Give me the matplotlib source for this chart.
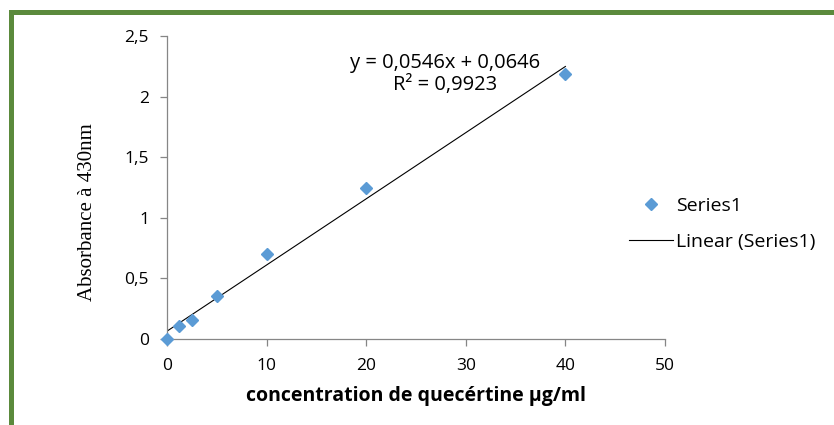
import numpy as np
import matplotlib.pyplot as plt
from matplotlib.patches import Rectangle
from matplotlib.lines import Line2D

# data
conc = [0, 1.25, 2.5, 5, 10, 20, 40]
absorb = [0.0, 0.105, 0.155, 0.355, 0.705, 1.25, 2.185]
slope, intercept = 0.0546, 0.0646
xticks = [0, 10, 20, 30, 40, 50]
yticks = [0, 0.5, 1, 1.5, 2, 2.5]
ytick_labels = ["0", "0,5", "1", "1,5", "2", "2,5"]

SANS = ["Open Sans", "DejaVu Sans"]
SERIF = ["Liberation Serif", "DejaVu Serif"]
BLUE = "#5b9bd5"
GREY = "#868686"

fig = plt.figure(figsize=(8.34, 4.25), dpi=100)
fig.patch.set_facecolor("white")

# green frame (only left and top edges visible in the crop)
fig.patches.append(Rectangle((11 / 834, -0.1), 1.2, 1.1 - 12.5 / 425,
                             transform=fig.transFigure, fill=False,
                             edgecolor="#5b8a3c", lw=3.6, zorder=0))

ax = fig.add_axes([167 / 834, 1 - 339 / 425, 498 / 834, 303 / 425])
ax.set_xlim(0, 50)
ax.set_ylim(0, 2.5)

x_fit = np.array([0, 40])
ax.plot(x_fit, slope * x_fit + intercept, color="black", lw=0.8)
ax.plot(conc, absorb, ls="none", marker="D", ms=6.5, color=BLUE,
        mec=BLUE, clip_on=False, zorder=5)

for s in ("top", "right"):
    ax.spines[s].set_visible(False)
for s in ("left", "bottom"):
    ax.spines[s].set_color(GREY)
    ax.spines[s].set_linewidth(0.9)

ax.set_xticks(xticks)
ax.set_xticklabels([str(v) for v in xticks])
ax.set_yticks(yticks)
ax.set_yticklabels(ytick_labels)
ax.tick_params(axis="both", colors=GREY, length=5, width=0.9, labelcolor="black",
               labelsize=12.5)
ax.tick_params(axis="x", pad=9)
ax.tick_params(axis="y", pad=8)
for lbl in ax.get_xticklabels() + ax.get_yticklabels():
    lbl.set_family(SANS)

ax.set_xlabel("concentration de quecértine µg/ml", family=SANS, fontsize=14,
              fontweight="bold", labelpad=8)
fig.text(88 / 834, 1 - 212 / 425, "Absorbance à 430nm", family=SERIF,
         fontsize=15, rotation=90, ha="center", va="center")

fig.text(445 / 834, 1 - 63 / 425, "y = 0,0546x + 0,0646", family=SANS,
         fontsize=14.5, ha="center", va="center")
fig.text(445 / 834, 1 - 85 / 425, "R² = 0,9923", family=SANS,
         fontsize=14.5, ha="center", va="center")

handles = [
    Line2D([], [], ls="none", marker="D", ms=6.5, color=BLUE),
    Line2D([], [], color="black", lw=0.8),
]
fig.legend(handles, ["Series1", "Linear (Series1)"], loc="center left",
           bbox_to_anchor=(611 / 834, 1 - 224 / 425), frameon=False,
           prop={"family": SANS, "size": 14}, handlelength=2.3,
           handletextpad=0.15, labelspacing=0.95)

fig.savefig("out.png", dpi=100)
